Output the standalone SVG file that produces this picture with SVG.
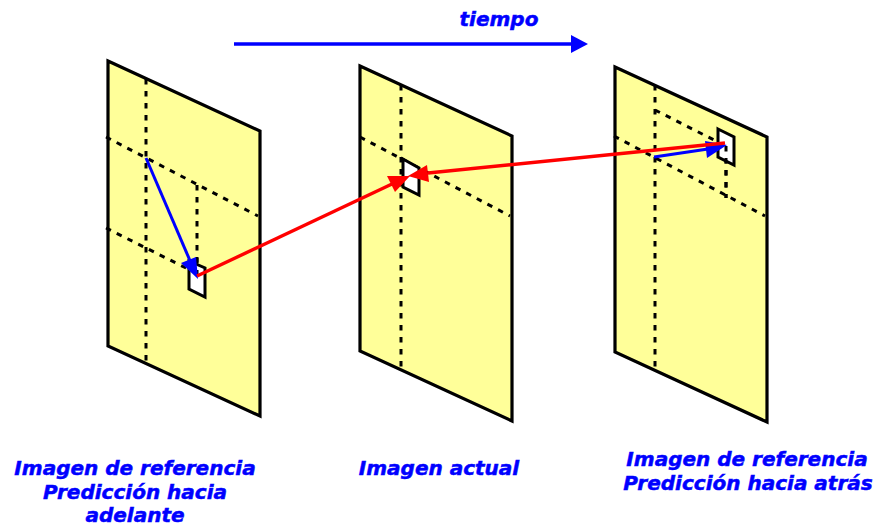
<svg xmlns="http://www.w3.org/2000/svg" width="874" height="527" viewBox="0 0 874 527">
<style>
.frame{fill:#ffff99;stroke:#000;stroke-width:3.2;stroke-linejoin:miter}
.dash{fill:none;stroke:#000;stroke-width:3;stroke-dasharray:5.5 6.5}
.box{fill:#fff;stroke:#000;stroke-width:3}
.red{fill:none;stroke:#f00;stroke-width:3.4}
.blue{fill:none;stroke:#00f;stroke-width:3}
.rh{fill:#f00}.bh{fill:#00f}
text{font-family:"DejaVu Sans",Verdana,sans-serif;font-weight:bold;font-style:italic;fill:#00f;stroke:#00f;stroke-width:.5;font-size:20px;text-anchor:middle}
</style>
<rect width="874" height="527" fill="#fff"/>
<g id="frame-forward">
<path class="frame" d="M108 61L260 131V416L108 346Z"/>
<path class="dash" d="M146 79V362M106 137L258 216M106 228L190 270M197 185V265"/>
<path class="box" d="M189 261L205 268V297L189 289Z"/>
<path class="dash" d="M197 258V278"/>
</g>
<g id="frame-current">
<path class="frame" d="M360 66L512 136V421L360 351Z"/>
<path class="dash" d="M401 85V369M360 137L510 216"/>
<path class="box" d="M403 159L419 168V195L403 187Z"/>
</g>
<g id="frame-backward">
<path class="frame" d="M615 67L767 137V422L615 352Z"/>
<path class="dash" d="M655 85V370M614 136L765 216M655 110L718 142M726 146V198"/>
<path class="box" d="M718 129L734 137V165L718 157Z"/>
<path class="dash" d="M726 146V198"/>
</g>
<g id="connectors">
<path class="blue" d="M146 158L191 263"/>
<path class="bh" d="M198 279L181 263L196 257Z"/>
<path class="blue" d="M654 157L708 149"/>
<path class="bh" d="M727 145L705 141L707 158Z"/>
<path class="red" d="M197 276L392 184"/>
<path class="rh" d="M410 176L387 176L395 192Z"/>
<path class="red" d="M725 143L428 173"/>
<path class="rh" d="M408 176L427 165L429 182Z"/>
<path fill="none" stroke="#00f" stroke-width="3.6" d="M234 44H573"/>
<path class="bh" d="M588 44L571 35V53Z"/>
</g>
<g id="labels">
<text x="499" y="26">tiempo</text>
<text x="135" y="475">Imagen de referencia</text>
<text x="135" y="499">Predicción hacia</text>
<text x="135" y="522">adelante</text>
<text x="439" y="475">Imagen actual</text>
<text x="747" y="466">Imagen de referencia</text>
<text x="748" y="490">Predicción hacia atrás</text>
</g>
</svg>
